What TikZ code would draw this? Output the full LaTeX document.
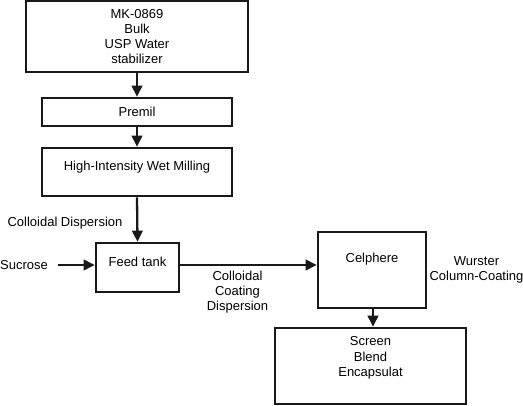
\documentclass[tikz,border=0pt]{standalone}
\usepackage{fontspec}
\setmainfont{Liberation Sans}
\usetikzlibrary{arrows.meta}
\begin{document}
\begin{tikzpicture}[x=1pt,y=-1pt,
  box/.style={draw=black!90, line width=2.6pt, inner sep=0pt, align=center},
  txt/.style={inner sep=0pt, align=center, font=\fontsize{13}{15.2}\selectfont},
  arr/.style={line width=2.3pt, draw=black!90, -{Triangle[length=11pt,width=10.5pt]}},
  every node/.style={font=\fontsize{13}{15.2}\selectfont}]
\useasboundingbox (0,0) rectangle (523,406);
\node[box, minimum width=222, minimum height=71] (mk) at (137,36.5)
  {MK-0869\\Bulk\\USP Water\\stabilizer};
\node[box, minimum width=190, minimum height=28] (premil) at (137,112) {Premil};
\node[box, minimum width=190, minimum height=48,
  label={[txt,yshift=5pt]center:High-Intensity Wet Milling}] (hiwm) at (137,172) {};
\node[box, minimum width=83, minimum height=49,
  label={[txt,yshift=5.5pt]center:Feed tank}] (feed) at (137.5,267.5) {};
\node[box, minimum width=108, minimum height=76,
  label={[txt,yshift=11pt]center:Celphere}] (cel) at (372,270) {};
\node[box, minimum width=191, minimum height=76,
  label={[txt,yshift=8pt]center:Screen\\Blend\\Encapsulat}] (scr) at (370.5,366) {};
\node[txt] (cd) at (65,223) {Colloidal Dispersion};
\node[txt, anchor=west] (suc) at (0,265) {Sucrose};
\node[txt] (ccd) at (237.5,292) {Colloidal\\Coating\\Dispersion};
\node[txt] (wur) at (476.5,270) {Wurster\\Column-Coating};
\coordinate (sucend) at (suc.east);
\draw[arr] ([xshift=10pt]sucend) -- (sucend -| feed.west);
\draw[arr] (mk.south) -- (premil.north);
\draw[arr] (premil.south) -- (hiwm.north);
\draw[arr] (hiwm.south) -- (feed.north);
\draw[arr] (feed.east |- sucend) -- (cel.west |- sucend);
\draw[arr] (cel.south -| 373,0) -- (scr.north -| 373,0);
\end{tikzpicture}
\end{document}
